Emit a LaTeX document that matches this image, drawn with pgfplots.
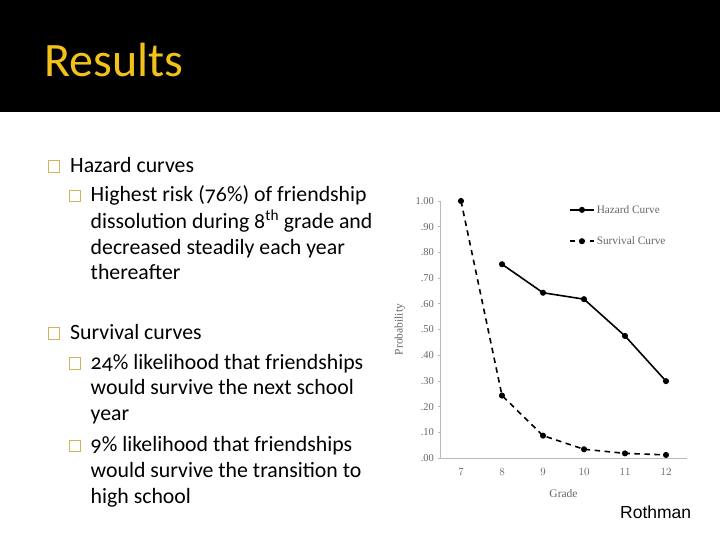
\documentclass[border=0pt]{standalone}
\usepackage{fontspec}
\setmainfont{Carlito}[Numbers=OldStyle]
\newfontfamily\chartfont{Liberation Serif}
\newfontfamily\arialfont{Liberation Sans}
\usepackage{pgfplots}
\pgfplotsset{compat=1.18}
\definecolor{titlegold}{HTML}{F2C21B}
\definecolor{bullettan}{HTML}{D2B45A}
\definecolor{tickgray}{HTML}{666666}
\newcommand{\bul}[2]{\draw[bullettan, line width=0.7pt] (#1,540-#2) rectangle ++(11.5,11.5);}
\newcommand{\txt}[3]{\node[anchor=base west, inner sep=0pt] at (#1,540-#2) {\fontsize{21.8}{24}\selectfont #3};}
\begin{document}
\begin{tikzpicture}[x=1pt,y=1pt]
  \fill[white] (0,0) rectangle (720,540);
  \fill[black] (0,428) rectangle (720,540);
  \node[anchor=base west, inner sep=0pt, text=titlegold] at (44,540-77)
    {\fontsize{48}{52}\selectfont Results};

  % bullet text
  \bul{48}{172}
  \txt{70}{172.3}{Hazard curves}
  \bul{69}{201.5}
  \txt{90.5}{201.7}{Highest risk (76\%) of friendship}
  \txt{90.5}{228.3}{dissolution during 8\textsuperscript{th} grade and}
  \txt{90.5}{254.3}{decreased steadily each year}
  \txt{90.5}{280}{thereafter}
  \bul{48}{339}
  \txt{70}{339.3}{Survival curves}
  \bul{69}{369}
  \txt{90.5}{369.3}{24\% likelihood that friendships}
  \txt{90.5}{395}{would survive the next school}
  \txt{90.5}{421}{year}
  \bul{69}{451.5}
  \txt{90.5}{451.7}{9\% likelihood that friendships}
  \txt{90.5}{477.3}{would survive the transition to}
  \txt{90.5}{503.3}{high school}

  \node[anchor=base west, inner sep=0pt] at (620,540-518.5)
    {\arialfont\fontsize{17.5}{20}\selectfont Rothman};

  \begin{axis}[
    scale only axis,
    width=246pt, height=257pt,
    anchor=south west, at={(440.5pt,82pt)},
    xmin=6.5, xmax=12.5, ymin=0, ymax=1,
    axis lines=left,
    axis line style={-, draw=gray!55, line width=0.7pt},
    xtick={7,8,9,10,11,12},
    ytick={0,0.1,0.2,0.3,0.4,0.5,0.6,0.7,0.8,0.9,1},
    yticklabels={.00,.10,.20,.30,.40,.50,.60,.70,.80,.90,1.00},
    x tick style={draw=none},
    y tick style={draw=gray!55, line width=0.7pt},
    tick align=outside, major tick length=3pt,
    tick label style={font=\chartfont\fontsize{10.5}{12}\selectfont, text=tickgray},
    xticklabel style={yshift=-4pt},
    label style={font=\chartfont\fontsize{11.5}{13}\selectfont, text=tickgray},
    xlabel=Grade,
    ylabel=Probability,
    xlabel style={at={(axis description cs:0.5,-0.11)}, anchor=north},
    ylabel style={at={(axis description cs:-0.13,0.5)}, anchor=south},
    legend style={at={(axis description cs:0.51,1.0)}, anchor=north west,
      draw=none, fill=none, font=\chartfont\fontsize{11.3}{13}\selectfont,
      text=tickgray, row sep=18pt},
    legend cell align=left,
    legend image code/.code={\draw[#1, mark repeat=2, mark phase=2]
      plot coordinates {(0pt,0pt) (12pt,0pt) (24pt,0pt)};},
  ]
    \addplot[black, line width=1.6pt, mark=*, mark size=2.2pt,
      mark options={solid}] coordinates {
      (8,0.754) (9,0.643) (10,0.618) (11,0.475) (12,0.299)
    };
    \addlegendentry{Hazard Curve}
    \addplot[black, line width=1.6pt, dash pattern=on 5.5pt off 4.5pt,
      mark=*, mark size=2.2pt, mark options={solid}] coordinates {
      (7,1.000) (8,0.243) (9,0.087) (10,0.034) (11,0.018) (12,0.012)
    };
    \addlegendentry{Survival Curve}
  \end{axis}
\end{tikzpicture}
\end{document}
